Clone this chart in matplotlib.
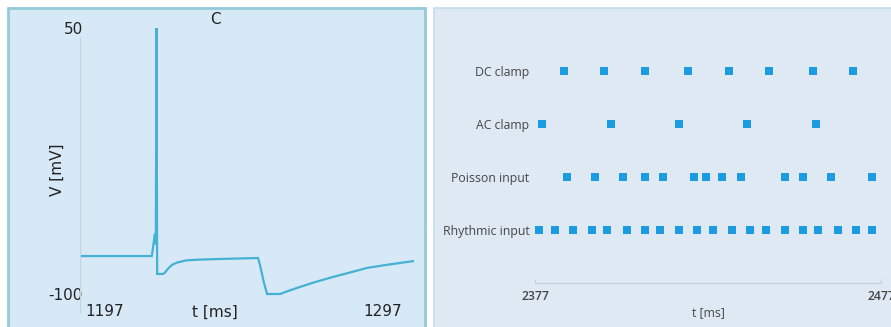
#!/usr/bin/env python3
"""
Membrane trace (panel C) next to a spike raster for four input protocols.
Saves the figure as out.png.
"""

import matplotlib
matplotlib.use("Agg")
import matplotlib.pyplot as plt
from matplotlib.patches import Rectangle
from matplotlib.transforms import blended_transform_factory

# --- membrane potential trace (t in ms, V in mV) ---
trace_t = [1197.0, 1210.0, 1218.5, 1219.0, 1219.4, 1219.7, 1219.9, 1220.0,
           1220.1, 1221.0, 1221.9, 1222.5, 1223.2, 1224.0, 1224.8, 1226.0,
           1227.5, 1229.0, 1231.0, 1233.0, 1238.0, 1244.0, 1250.3, 1250.8,
           1252.0, 1253.0, 1255.0, 1256.9, 1259.0, 1262.9, 1267.0, 1272.7,
           1278.0, 1282.9, 1288.0, 1292.8, 1297.0]
trace_v = [-78.6, -78.6, -78.6, -72.0, -66.0, -72.0, 50.0, -20.0,
           -88.7, -88.7, -88.7, -87.8, -86.0, -84.5, -83.3, -82.3,
           -81.6, -81.0, -80.8, -80.6, -80.3, -80.0, -79.7, -83.0,
           -93.0, -100.0, -100.0, -100.0, -98.5, -96.0, -93.5, -90.4,
           -87.8, -85.3, -83.8, -82.5, -81.4]
trace_xticks = [1197, 1297]
trace_yticks = [-100, 50]

# --- spike raster (t in ms) ---
raster_labels = ["DC clamp", "AC clamp", "Poisson input", "Rhythmic input"]
dc_spikes = [2385.4, 2397.0, 2408.8, 2421.1, 2433.0, 2444.5, 2457.3, 2469.0]
ac_spikes = [2379.0, 2398.9, 2418.5, 2438.2, 2458.1]
poisson_spikes = [2386.2, 2394.3, 2402.3, 2408.8, 2414.1, 2423.0, 2426.5,
                  2431.0, 2436.6, 2449.2, 2454.4, 2462.6, 2474.3]
rhythmic_spikes = [2378.2, 2382.8, 2388.1, 2393.4, 2397.9, 2403.5, 2408.8,
                   2413.2, 2418.5, 2423.8, 2428.4, 2433.9, 2439.2, 2443.8,
                   2449.2, 2454.4, 2458.9, 2464.5, 2469.8, 2474.3]
raster_xticks = [2377, 2477]

W, H = 891, 327
TRACE_COLOR = "#45b1d4"
SPIKE_COLOR = "#1b9ce0"
RASTER_TEXT = "#454545"


def px_rect(x0, y0, x1, y1):
    """Pixel box (top-left origin) -> figure fraction [left, bottom, w, h]."""
    return [x0 / W, 1 - y1 / H, (x1 - x0) / W, (y1 - y0) / H]


fig = plt.figure(figsize=(W / 100, H / 100), dpi=100)
fig.patch.set_facecolor("white")

# panel backgrounds, kept underneath both axes
l, b, w, h = px_rect(8, 8, 425, 340)
fig.patches.append(Rectangle((l, b), w, h, transform=fig.transFigure,
                             facecolor="#d7e9f6", edgecolor="#93cbd9",
                             linewidth=2.0, zorder=-10))
l, b, w, h = px_rect(434, 8, 900, 340)
fig.patches.append(Rectangle((l, b), w, h, transform=fig.transFigure,
                             facecolor="#dee9f4", edgecolor="#c3dcec",
                             linewidth=1.2, zorder=-10))

# ---------------- left: voltage trace ----------------
ax1 = fig.add_axes(px_rect(80, 25, 414, 315))
ax1.patch.set_visible(False)
ax1.plot(trace_t, trace_v, color=TRACE_COLOR, linewidth=1.6,
         solid_joinstyle="miter")
ax1.set_xlim(trace_xticks[0], trace_xticks[1])
ax1.set_ylim(-111.84, 51.69)
for side in ("top", "right", "bottom"):
    ax1.spines[side].set_visible(False)
ax1.spines["left"].set_color("#c9d3da")
ax1.spines["left"].set_linewidth(0.8)
ax1.spines["left"].set_bounds(-110.7, 44.9)
ax1.set_xticks([])
ax1.set_yticks(trace_yticks)
ax1.set_yticklabels([str(v) for v in trace_yticks])
ax1.tick_params(axis="y", length=0, pad=-2, labelsize=11, labelcolor="#222222")

tr = blended_transform_factory(ax1.transData, fig.transFigure)
ax1.text(trace_xticks[0] + 1.5, 1 - 312 / H, str(trace_xticks[0]), transform=tr,
         ha="left", va="center", fontsize=11, color="#222222")
ax1.text(trace_xticks[1] - 3.6, 1 - 312 / H, str(trace_xticks[1]), transform=tr,
         ha="right", va="center", fontsize=11, color="#222222")
fig.text(215 / W, 1 - 312 / H, "t [ms]", ha="center", va="center",
         fontsize=11, color="#222222")
fig.text(57 / W, 1 - 170 / H, "V [mV]", ha="center", va="center",
         rotation=90, fontsize=11, color="#222222")
fig.text(215 / W, 1 - 19 / H, "C", ha="center", va="center",
         fontsize=11, color="#222222")

# ---------------- right: spike raster ----------------
ax2 = fig.add_axes(px_rect(535, 18, 881, 283))
ax2.patch.set_visible(False)
rows = [dc_spikes, ac_spikes, poisson_spikes, rhythmic_spikes]
for i, spikes in enumerate(rows):
    y = len(rows) - i
    ax2.plot(spikes, [y] * len(spikes), linestyle="none", marker="s",
             markersize=5.3, color=SPIKE_COLOR, markeredgewidth=0,
             clip_on=False)
ax2.set_xlim(raster_xticks[0], raster_xticks[1])
ax2.set_ylim(0, 5)
ax2.set_yticks([len(rows) - i for i in range(len(rows))])
ax2.set_yticklabels(raster_labels, fontfamily="Open Sans", fontsize=8.8,
                    color=RASTER_TEXT, fontweight="medium")
ax2.set_xticks(raster_xticks)
ax2.set_xticklabels([str(v) for v in raster_xticks], fontfamily="Open Sans",
                    fontsize=8.8, color=RASTER_TEXT, fontweight="semibold")
ax2.tick_params(axis="y", length=0, pad=4)
ax2.tick_params(axis="x", direction="in", length=3, color="#c9d0d6",
                width=0.8, pad=5)
for side in ("top", "right", "left"):
    ax2.spines[side].set_visible(False)
ax2.spines["bottom"].set_color("#c9d0d6")
ax2.spines["bottom"].set_linewidth(0.8)
fig.text(708 / W, 1 - 313 / H, "t [ms]", ha="center", va="center",
         fontfamily="Open Sans", fontsize=8.8, color=RASTER_TEXT)

fig.savefig("out.png", dpi=100, facecolor=fig.get_facecolor())
plt.close(fig)
